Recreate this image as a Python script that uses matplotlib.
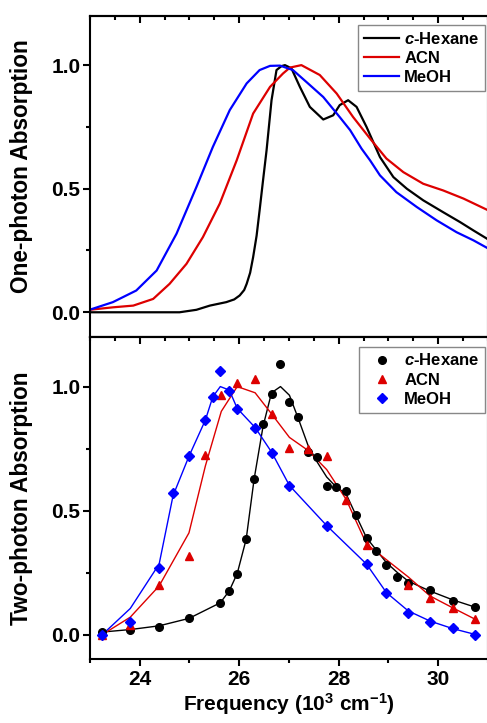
import matplotlib
matplotlib.use("Agg")
import matplotlib.pyplot as plt
from matplotlib.ticker import MultipleLocator

plt.rcParams['font.family'] = ['Liberation Sans', 'DejaVu Sans']
plt.rcParams['font.weight'] = 'bold'
plt.rcParams['mathtext.fontset'] = 'custom'
plt.rcParams['mathtext.rm'] = 'Liberation Sans:bold'
plt.rcParams['mathtext.it'] = 'Liberation Sans:bold:italic'
plt.rcParams['mathtext.bf'] = 'Liberation Sans:bold'

# ---------------- One-photon absorption (top) ----------------
hex1_x = [22.99, 24.4, 24.8, 25.14, 25.41, 25.74, 25.90, 26.01, 26.10, 26.15, 26.22, 26.28,
          26.35, 26.41, 26.48, 26.55, 26.65, 26.75, 26.85, 26.92, 27.05, 27.22, 27.42,
          27.69, 27.89, 28.02, 28.19, 28.36, 28.56, 28.83, 29.10, 29.37, 29.70, 30.10,
          30.44, 30.71, 30.98]
hex1_y = [0.0, 0.0, 0.0, 0.01, 0.027, 0.041, 0.052, 0.068, 0.09, 0.115, 0.16, 0.223,
          0.31, 0.412, 0.535, 0.655, 0.858, 0.98, 0.996, 1.0, 0.987, 0.912, 0.831,
          0.78, 0.797, 0.838, 0.858, 0.831, 0.75, 0.628, 0.547, 0.5, 0.453, 0.405,
          0.365, 0.331, 0.298]

acn1_x = [22.99, 23.46, 23.87, 24.27, 24.60, 24.94, 25.27, 25.61, 25.95, 26.28, 26.62,
          26.88, 27.02, 27.25, 27.62, 27.96, 28.29, 28.63, 28.96, 29.30, 29.70, 30.10,
          30.51, 30.98]
acn1_y = [0.01, 0.02, 0.027, 0.054, 0.115, 0.196, 0.304, 0.44, 0.615, 0.804, 0.912,
          0.966, 0.99, 1.0, 0.96, 0.885, 0.79, 0.703, 0.622, 0.567, 0.52, 0.493,
          0.46, 0.415]

meoh1_x = [22.99, 23.46, 23.93, 24.34, 24.74, 25.14, 25.47, 25.81, 26.15, 26.41, 26.62,
           26.82, 27.08, 27.35, 27.69, 28.02, 28.23, 28.46, 28.63, 28.83, 29.16, 29.57,
           29.97, 30.37, 30.71, 30.98]
meoh1_y = [0.01, 0.041, 0.088, 0.169, 0.318, 0.507, 0.669, 0.818, 0.926, 0.98, 0.997,
           0.998, 0.98, 0.932, 0.871, 0.79, 0.737, 0.662, 0.615, 0.554, 0.486, 0.426,
           0.372, 0.324, 0.291, 0.261]

# ---------------- Two-photon absorption (bottom) ----------------
hex2_x = [23.25, 23.81, 24.39, 24.99, 25.62, 25.80, 25.96, 26.14, 26.30, 26.48, 26.65,
          26.83, 27.01, 27.19, 27.38, 27.57, 27.76, 27.95, 28.15, 28.35, 28.56, 28.76,
          28.96, 29.18, 29.40, 29.84, 30.29, 30.75]
hex2_pts = [0.009, 0.02, 0.032, 0.065, 0.128, 0.176, 0.246, 0.384, 0.627, 0.849, 0.972,
            1.092, 0.939, 0.878, 0.736, 0.714, 0.601, 0.595, 0.577, 0.481, 0.391, 0.338,
            0.281, 0.232, 0.207, 0.178, 0.136, 0.109]
hex2_fit = [0.01, 0.02, 0.035, 0.065, 0.128, 0.176, 0.246, 0.384, 0.627, 0.84, 0.975,
            1.0, 0.965, 0.87, 0.765, 0.695, 0.635, 0.595, 0.567, 0.48, 0.39, 0.34,
            0.29, 0.25, 0.215, 0.175, 0.14, 0.11]

acn2_x = [23.25, 23.81, 24.39, 24.99, 25.32, 25.64, 25.96, 26.32, 26.65, 27.01, 27.38,
          27.76, 28.15, 28.56, 29.40, 29.84, 30.29, 30.75]
acn2_pts = [0.0, 0.038, 0.199, 0.318, 0.723, 0.966, 1.014, 1.03, 0.889, 0.754, 0.75,
            0.719, 0.541, 0.361, 0.199, 0.146, 0.108, 0.061]
acn2_fit = [0.0, 0.07, 0.196, 0.41, 0.68, 0.9, 1.0, 0.975, 0.89, 0.795, 0.743,
            0.665, 0.545, 0.365, 0.232, 0.155, 0.108, 0.061]

meoh2_x = [23.25, 23.81, 24.39, 24.67, 24.99, 25.32, 25.47, 25.62, 25.80, 25.96, 26.32,
           26.65, 27.01, 27.76, 28.56, 28.96, 29.40, 29.84, 30.29, 30.75]
meoh2_pts = [0.0, 0.051, 0.268, 0.572, 0.72, 0.865, 0.957, 1.061, 0.984, 0.909, 0.834,
             0.734, 0.599, 0.436, 0.284, 0.166, 0.088, 0.05, 0.027, 0.0]
meoh2_fit = [0.0, 0.105, 0.284, 0.56, 0.719, 0.865, 0.959, 1.0, 0.986, 0.912, 0.835,
             0.736, 0.601, 0.439, 0.284, 0.169, 0.095, 0.054, 0.024, 0.0]

labels = ['$\\mathit{c}$-Hexane', 'ACN', 'MeOH']
colors = ['#000000', '#dd0000', '#0000ff']

fig = plt.figure(figsize=(4.87, 7.23), dpi=100)
ax1 = fig.add_axes([0.1848, 0.5339, 0.817, 0.4444])
ax2 = fig.add_axes([0.1848, 0.0881, 0.817, 0.4458])

ax1.plot(hex1_x, hex1_y, color=colors[0], lw=1.6, label=labels[0])
ax1.plot(acn1_x, acn1_y, color=colors[1], lw=1.6, label=labels[1])
ax1.plot(meoh1_x, meoh1_y, color=colors[2], lw=1.6, label=labels[2])

ax2.plot(hex2_x, hex2_fit, color=colors[0], lw=1.0)
ax2.plot(acn2_x, acn2_fit, color=colors[1], lw=1.0)
ax2.plot(meoh2_x, meoh2_fit, color=colors[2], lw=1.0)
ax2.plot(hex2_x, hex2_pts, 'o', color=colors[0], ms=5.5, ls='none', label=labels[0])
ax2.plot(acn2_x, acn2_pts, '^', color=colors[1], ms=6, ls='none', label=labels[1])
ax2.plot(meoh2_x, meoh2_pts, 'D', color=colors[2], ms=5, ls='none', label=labels[2])

for ax in (ax1, ax2):
    ax.set_xlim(23, 31)
    ax.set_ylim(-0.1, 1.2)
    ax.yaxis.set_major_locator(MultipleLocator(0.5))
    ax.yaxis.set_minor_locator(MultipleLocator(0.25))
    ax.xaxis.set_major_locator(MultipleLocator(2))
    ax.xaxis.set_minor_locator(MultipleLocator(1))
    for s in ax.spines.values():
        s.set_linewidth(1.5)
    ax.tick_params(axis='y', which='major', direction='out', length=5, width=1.5,
                   labelsize=15, pad=2)
    ax.tick_params(axis='y', which='minor', direction='out', length=3, width=1.5)
    ax.tick_params(axis='x', which='major', direction='out', length=5, width=1.5,
                   labelsize=15, pad=3)
    ax.tick_params(axis='x', which='minor', direction='out', length=3, width=1.5)
    sec = ax.secondary_xaxis('top')
    sec.xaxis.set_major_locator(MultipleLocator(2))
    sec.xaxis.set_minor_locator(MultipleLocator(0.5))
    sec.tick_params(which='major', direction='in', length=5, width=1.5, labeltop=False)
    sec.tick_params(which='minor', direction='in', length=3, width=1.5)
    sec.spines['top'].set_linewidth(1.5)

ax1.tick_params(axis='x', which='both', bottom=False, labelbottom=False)
ax1.set_yticks([0.0, 0.5, 1.0])
ax1.set_yticklabels(['0.0', '0.5', '1.0'], fontweight='bold')
ax2.set_yticks([0.0, 0.5, 1.0])
ax2.set_yticklabels(['0.0', '0.5', '1.0'], fontweight='bold')
ax2.set_xticks([24, 26, 28, 30])
ax2.set_xticklabels(['24', '26', '28', '30'], fontweight='bold')

ax1.set_ylabel('One-photon Absorption', fontsize=16.3, fontweight='bold')
ax2.set_ylabel('Two-photon Absorption', fontsize=16.3, fontweight='bold')
ax2.set_xlabel('Frequency (10$^3$ cm$^{\u22121}$)', fontsize=15, fontweight='bold', labelpad=1)
ax1.yaxis.set_label_coords(-0.143, 0.533)
ax2.yaxis.set_label_coords(-0.143, 0.5)

leg_kw = dict(loc='upper right', fancybox=False, borderaxespad=0,
              prop={'weight': 'bold', 'size': 12}, handletextpad=0.35,
              labelspacing=0.25, borderpad=0.35, framealpha=1)
l1 = ax1.legend(bbox_to_anchor=(0.994, 0.971), handlelength=2.1, **leg_kw)
l2 = ax2.legend(bbox_to_anchor=(0.994, 0.970), handlelength=2.0, **leg_kw)
for l in (l1, l2):
    l.get_frame().set_edgecolor('#888888')
    l.get_frame().set_linewidth(1.0)

fig.savefig('out.png', dpi=100)
